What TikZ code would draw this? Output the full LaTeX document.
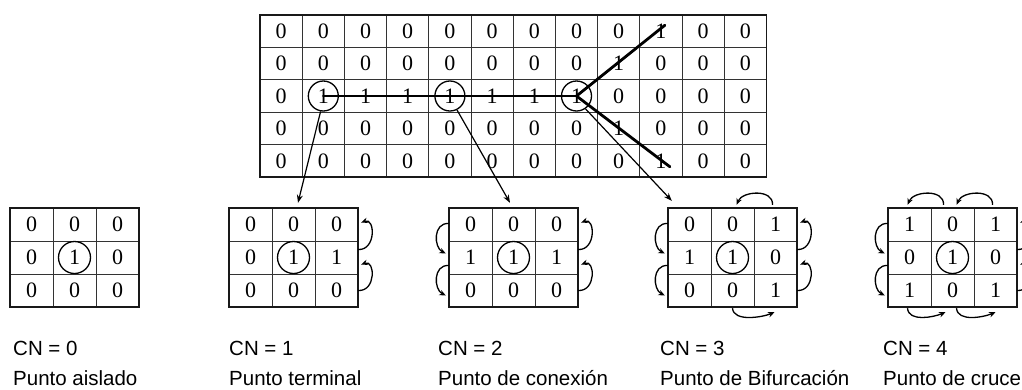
\documentclass[tikz,border=0pt]{standalone}
\usepackage{fontspec}
\setmainfont{Liberation Serif}
\newfontfamily\capfont{Liberation Sans}
\usetikzlibrary{arrows.meta,calc}

\tikzset{
  gridline/.style={line width=1pt, draw=black!80},
  border/.style={line width=1.7pt, draw=black!90},
  digit/.style={font=\fontsize{22}{22}\selectfont, inner sep=0pt, anchor=center},
  topcell/.style={digit, minimum width=42.2pt, minimum height=32.4pt},
  smallcell/.style={digit, minimum width=43pt, minimum height=33pt},
  ring/.style={circle, draw, line width=1.3pt, inner sep=0pt},
  pointer/.style={line width=1.2pt, -{Stealth[length=8pt,width=6pt]}},
  turn/.style={line width=1.3pt, -{Stealth[length=6.5pt,width=5.5pt]}},
  skel/.style={line width=2.8pt, line cap=round},
  caption/.style={font=\capfont\fontsize{20.5}{24}\selectfont, anchor=base west, inner sep=0pt}
}

\newcommand\cellgrid[5]{%
  \foreach \kk in {1,2} {
    \draw[gridline] ({#2+\kk*43},208) -- ++(0,99);
    \draw[gridline] (#2,{208+\kk*33}) -- ++(129,0);
  }
  \draw[border] (#2,208) rectangle ++(129,99);
  \foreach \rowlist [count=\ri from 0] in {{#3},{#4},{#5}} {
    \foreach \vv [count=\ci from 0] in \rowlist {
      \node[smallcell] (#1-\ri-\ci) at ({#2+(\ci+0.5)*43},{208+(\ri+0.5)*33}) {\vv};
    }
  }
  \node[ring, minimum size=32pt] (#1-ring) at (#1-1-1) {};
}

\begin{document}
\begin{tikzpicture}[x=1pt,y=-1pt]
\useasboundingbox (0,0) rectangle (1022,389);

% ---------- top grid ----------
\foreach \kk in {1,...,11} \draw[gridline] ({260+\kk*42.2},15) -- ++(0,162);
\foreach \kk in {1,...,4} \draw[gridline] (260,{15+\kk*32.4}) -- ++(506.4,0);
\draw[border] (260,15) rectangle ++(506.4,162);

\foreach \rowlist [count=\ri from 0] in {
  {0,0,0,0,0,0,0,0,0,1,0,0},
  {0,0,0,0,0,0,0,0,1,0,0,0},
  {0,1,1,1,1,1,1,1,0,0,0,0},
  {0,0,0,0,0,0,0,0,1,0,0,0},
  {0,0,0,0,0,0,0,0,0,1,0,0}} {
  \foreach \vv [count=\ci from 0] in \rowlist {
    \node[topcell] (t-\ri-\ci) at ({260+(\ci+0.5)*42.2},{15+(\ri+0.5)*32.4}) {\vv};
  }
}

\node[ring, minimum size=30pt] (r1) at (t-2-1) {};
\node[ring, minimum size=30pt] (r4) at (t-2-4) {};
\node[ring, minimum size=30pt] (r7) at (t-2-7) {};

\coordinate (up) at ($(t-0-9.center)+(4,-6)$);
\coordinate (dn) at ($(t-4-9.center)+(9,6)$);
\draw[skel] (r1.center) -- (r4.center) -- (r7.center);
\draw[skel] (r7.center) -- (up);
\draw[skel] (r7.center) -- (dn);

% ---------- small grids ----------
\cellgrid{g0}{10}{0,0,0}{0,1,0}{0,0,0}
\cellgrid{g1}{229}{0,0,0}{0,1,1}{0,0,0}
\cellgrid{g2}{449}{0,0,0}{1,1,1}{0,0,0}
\cellgrid{g3}{668}{0,0,1}{1,1,0}{0,0,1}
\cellgrid{g4}{888}{1,0,1}{0,1,0}{1,0,1}

% ---------- pointers ----------
\coordinate (p1) at ($(g1-0-1.north)+(4.5,-5)$);
\coordinate (p2) at ($(g2-0-1.north)+(-3.5,-5)$);
\coordinate (p3) at ($(g3-0-0.north west)+(4,-7)$);
\draw[pointer] (r1.-100) -- (p1);
\draw[pointer] (r4.-63) -- (p2);
\draw[pointer] (r7.-55) -- (p3);

% ---------- right-side turns ----------
\foreach \g in {g1,g2,g3,g4} {
  \draw[turn] ($(\g-1-2.east)+(0,-8)$) .. controls +(18,1) and +(14,-5) .. ($(\g-0-2.east)+(3,-2)$);
  \draw[turn] ($(\g-2-2.east)+(0,0)$) .. controls +(18,1) and +(14,-5) .. ($(\g-1-2.east)+(3,7)$);
}
% ---------- left-side turns ----------
\foreach \g in {g2,g3,g4} {
  \draw[turn] ($(\g-0-0.west)+(0,-1)$) .. controls +(-16,-1) and +(-12,-6) .. ($(\g-1-0.west)+(-3,-4)$);
  \draw[turn] ($(\g-1-0.west)+(0,8)$) .. controls +(-16,-1) and +(-12,-6) .. ($(\g-2-0.west)+(-3,5)$);
}
% ---------- top turns ----------
\draw[turn] ($(g3-0-2.north)+(-3,-3)$) .. controls +(1,-16) and +(6,-14) .. ($(g3-0-1.north)+(4,-3)$);
\draw[turn] ($(g4-0-1.north)+(-9,-3)$) .. controls +(1,-16) and +(6,-14) .. ($(g4-0-0.north)+(-2,-3)$);
\draw[turn] ($(g4-0-2.north)+(-3,-3)$) .. controls +(1,-16) and +(6,-14) .. ($(g4-0-1.north)+(4,-3)$);
% ---------- bottom turns ----------
\draw[turn] ($(g3-2-1.south)+(0,1)$) .. controls +(1,14) and +(-12,5) .. ($(g3-2-2.south)+(-1,5)$);
\draw[turn] ($(g4-2-0.south)+(-2,1)$) .. controls +(1,14) and +(-12,5) .. ($(g4-2-1.south)+(-7,5)$);
\draw[turn] ($(g4-2-1.south)+(4,1)$) .. controls +(1,14) and +(-12,5) .. ($(g4-2-2.south)+(0,5)$);

% ---------- captions ----------
\node[caption] (c0a) at (13,355) {CN = 0};
\node[caption] (c0b) at (13,385) {Punto aislado};
\node[caption] (c1a) at (229,355) {CN = 1};
\node[caption] (c1b) at (229,385) {Punto terminal};
\node[caption] (c2a) at (438,355) {CN = 2};
\node[caption] (c2b) at (438,385) {Punto de conexión};
\node[caption] (c3a) at (660,355) {CN = 3};
\node[caption] (c3b) at (660,385) {Punto de Bifurcación};
\node[caption] (c4a) at (883,355) {CN = 4};
\node[caption] (c4b) at (883,385) {Punto de cruce};
\end{tikzpicture}
\end{document}
